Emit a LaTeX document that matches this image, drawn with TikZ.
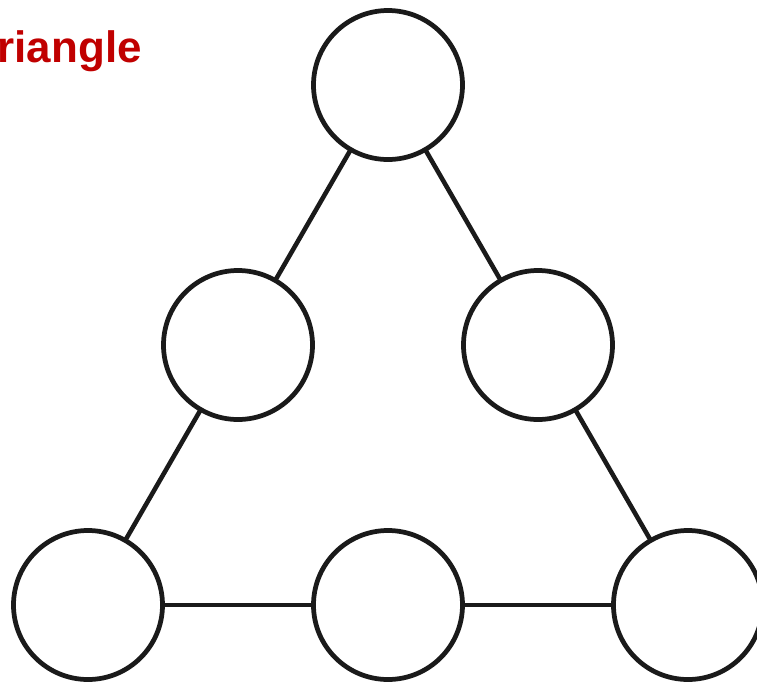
\documentclass[tikz,border=0pt]{standalone}
\usepackage{fontspec}
\setmainfont{Liberation Sans}
\usepackage{xcolor}
\usepackage{tikz}
\usepackage{tikz-network}
\usetikzlibrary{positioning}
\definecolor{titlered}{HTML}{C00000}
\definecolor{ink}{HTML}{1A1A1A}
\tikzset{ring/.style={draw=ink, line width=2.7pt}}

\begin{document}
\begin{tikzpicture}
	\useasboundingbox (0,0) rectangle (15.14,-13.64);
	\node[anchor=base east, text=titlered, font=\bfseries\fontsize{25}{30}\selectfont, inner sep=0pt] (title) at (2.84,-1.24) {Triangle};
	\Vertex[x=7.76, y=-1.7, size=2.98, color=white, opacity=1, style=ring]{top}
    \Vertex[x=4.76, y=-6.9, size=2.98, color=white, opacity=1, style=ring]{midl}
    \Vertex[x=10.76, y=-6.9, size=2.98, color=white, opacity=1, style=ring]{midr}
    \Vertex[x=1.76, y=-12.1, size=2.98, color=white, opacity=1, style=ring]{botl}
    \Vertex[x=7.76, y=-12.1, size=2.98, color=white, opacity=1, style=ring]{botm}
    \Vertex[x=13.76, y=-12.1, size=2.98, color=white, opacity=1, style=ring]{botr}
    \Edge[lw=2.6, color=ink, opacity=1](top)(midl)
    \Edge[lw=2.6, color=ink, opacity=1](top)(midr)
    \Edge[lw=2.6, color=ink, opacity=1](midl)(botl)
    \Edge[lw=2.6, color=ink, opacity=1](midr)(botr)
    \Edge[lw=2.6, color=ink, opacity=1](botl)(botm)
    \Edge[lw=2.6, color=ink, opacity=1](botm)(botr)
\end{tikzpicture}
\end{document}
